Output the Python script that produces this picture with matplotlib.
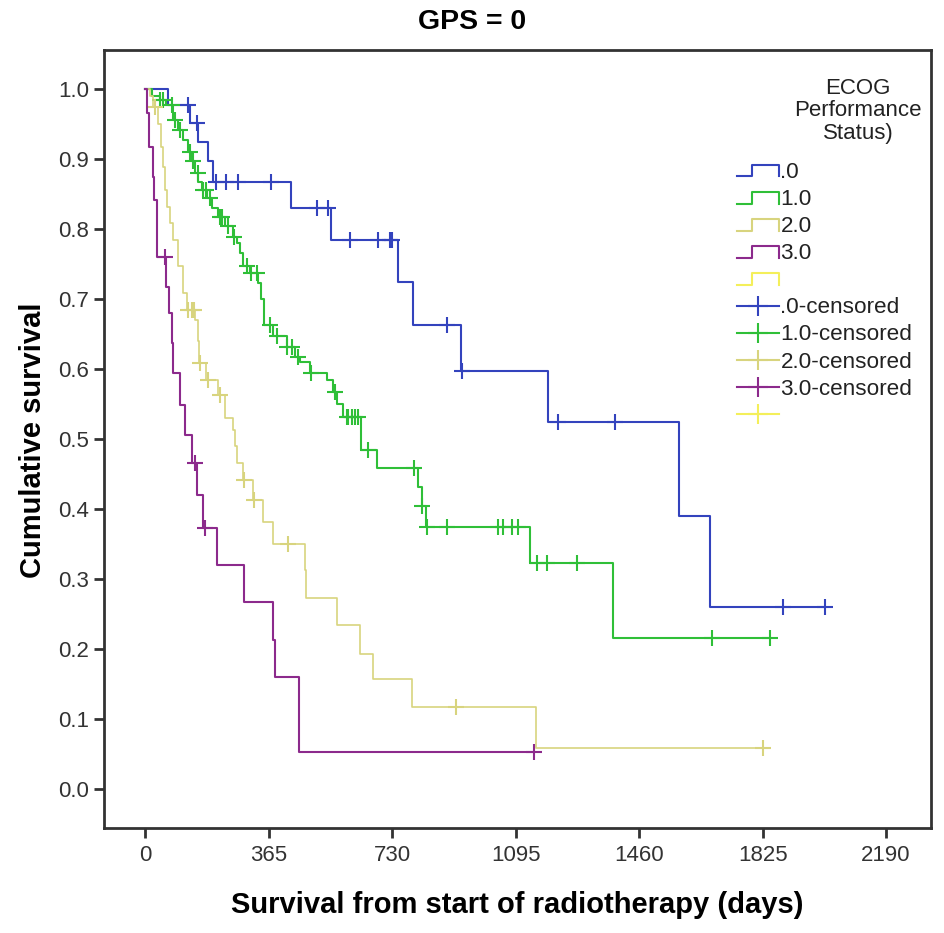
import numpy as np
import matplotlib
matplotlib.use('Agg')
import matplotlib.pyplot as plt
from matplotlib.lines import Line2D
from matplotlib.legend_handler import HandlerBase

plt.rcParams['font.family'] = ['Liberation Sans', 'DejaVu Sans']

# ECOG .0  (event days, survival after event, censored days, end of follow-up)
t0 = [68, 132, 157, 186, 199, 431, 549, 748, 792, 933, 1192, 1578, 1670]
s0 = [0.977, 0.952, 0.925, 0.897, 0.868, 0.830, 0.785, 0.725, 0.663, 0.597,
      0.524, 0.390, 0.261]
c0 = [127, 154, 209, 239, 275, 371, 507, 541, 605, 689, 724, 730, 891, 937,
      1221, 1389, 1886, 2010]
end0 = 2010

# ECOG 1.0
t1 = [20, 43, 61, 83, 98, 112, 127, 137, 147, 157, 167, 182, 196, 216, 236,
      260, 270, 281, 290, 310, 334, 342, 351, 379, 418, 443, 457, 487, 536,
      555, 567, 585, 638, 684, 807, 817, 830, 1138, 1382]
s1 = [0.99, 0.985, 0.977, 0.956, 0.942, 0.928, 0.911, 0.897, 0.88, 0.868,
      0.856, 0.844, 0.83, 0.818, 0.804, 0.789, 0.78, 0.766, 0.747, 0.737,
      0.723, 0.70, 0.663, 0.647, 0.632, 0.618, 0.611, 0.594, 0.585, 0.568,
      0.551, 0.532, 0.485, 0.459, 0.432, 0.405, 0.375, 0.323, 0.216]
c1 = [44, 52, 78, 88, 103, 132, 142, 155, 171, 181, 191, 221, 226, 245, 262,
      300, 312, 330, 369, 389, 418, 433, 452, 489, 562, 596, 600, 610, 620,
      630, 659, 793, 819, 832, 891, 1044, 1059, 1083, 1103, 1157, 1187, 1276,
      1676, 1847]
end1 = 1847

# ECOG 2.0
t2 = [14, 24, 38, 48, 53, 58, 63, 73, 83, 98, 112, 122, 148, 155, 160, 181,
      216, 236, 260, 265, 270, 290, 319, 349, 378, 472, 475, 566, 635, 674,
      788, 1155]
s2 = [0.99, 0.975, 0.951, 0.918, 0.889, 0.856, 0.832, 0.809, 0.785, 0.747,
      0.709, 0.685, 0.67, 0.64, 0.609, 0.585, 0.563, 0.53, 0.513, 0.49,
      0.466, 0.442, 0.413, 0.382, 0.351, 0.313, 0.273, 0.234, 0.194, 0.157,
      0.117, 0.0586]
c2 = [29, 127, 137, 145, 163, 185, 220, 292, 322, 423, 919, 1827]
end2 = 1827

# ECOG 3.0
t3 = [6, 12, 22, 26, 34, 35, 36, 61, 71, 78, 83, 103, 117, 137, 154, 172,
      211, 293, 377, 383, 454]
s3 = [0.966, 0.918, 0.875, 0.842, 0.813, 0.787, 0.761, 0.718, 0.68, 0.637,
      0.594, 0.549, 0.506, 0.466, 0.42, 0.373, 0.32, 0.267, 0.213, 0.16,
      0.054]
c3 = [58, 147, 177, 1149]
end3 = 1149

groups = ['.0', '1.0', '2.0', '3.0']
colors = ['#3343bd', '#2fbf38', '#d8d47e', '#8c2a8c']
extra_color = '#f4ef5a'
xticks = [0, 365, 730, 1095, 1460, 1825, 2190]
yticks = np.arange(0, 1.01, 0.1)
legend_title = ['ECOG', 'Performance', 'Status)']

fig = plt.figure(figsize=(9.45, 9.33), dpi=100)
ax = fig.add_axes([0.1104, 0.1122, 0.8745, 0.8342])

data = [(t0, s0, c0, end0), (t1, s1, c1, end1), (t2, s2, c2, end2), (t3, s3, c3, end3)]
for (t, s, c, end), col in zip(data, colors):
    lw = 1.2 if col == colors[2] else 1.5
    xs = [0] + t + [end]
    ys = [1.0] + s + [s[-1]]
    ax.step(xs, ys, where='post', color=col, lw=lw)
    # survival at censor times from the step function
    idx = np.searchsorted(t, c, side='right')
    cs = np.array([1.0] + s)[idx]
    ax.plot(c, cs, ls='none', marker='+', ms=11, mew=1.5, color=col)

ax.set_xlim(-121, 2322)
ax.set_ylim(-0.0557, 1.056)
ax.set_xticks(xticks)
ax.set_yticks(yticks)
ax.set_yticklabels(['%.1f' % v for v in yticks])
ax.tick_params(direction='out', length=7, width=2, color='#333333',
               labelsize=16, labelcolor='#333333')
ax.tick_params(axis='x', pad=5)
ax.tick_params(axis='y', pad=4)
for sp in ax.spines.values():
    sp.set_linewidth(2)
    sp.set_color('#333333')

fig.text(0.5, 1 - 22 / 933, 'GPS = 0', ha='center', va='center',
         fontsize=20.5, fontweight='bold')
fig.text(517 / 945, 1 - 905 / 933, 'Survival from start of radiotherapy (days)',
         ha='center', va='center', fontsize=21, fontweight='bold')
fig.text(33 / 945, 1 - 440 / 933, 'Cumulative survival', rotation=90,
         ha='center', va='center', fontsize=21, fontweight='bold')

for i, line in enumerate(legend_title):
    fig.text(858 / 945, 1 - (88 + 22.5 * i) / 933, line, ha='center',
             va='center', fontsize=16, color='#222222')


class StepHandler(HandlerBase):
    def create_artists(self, legend, orig_handle, xdescent, ydescent,
                       width, height, fontsize, trans):
        xs = np.array([0, 0.35, 0.35, 1, 1]) * width - xdescent
        ys = np.array([0.1, 0.1, 0.85, 0.85, 0.1]) * height - ydescent
        ln = Line2D(xs, ys, color=orig_handle.get_color(),
                    lw=orig_handle.get_linewidth())
        ln.set_transform(trans)
        return [ln]


step_handles = [Line2D([], [], color=c, lw=1.5) for c in colors + [extra_color]]
cens_handles = [Line2D([], [], color=c, lw=1.5, marker='+', ms=14, mew=1.5)
                for c in colors + [extra_color]]
labels = groups + [''] + [g + '-censored' for g in groups] + ['']
handler = StepHandler()
hmap = {h: handler for h in step_handles}
leg = ax.legend(step_handles + cens_handles, labels, handler_map=hmap,
                loc='upper left', bbox_to_anchor=(737 / 945, 1 - 162 / 933),
                bbox_transform=fig.transFigure, frameon=False, fontsize=16.2,
                numpoints=1, handlelength=1.85, handletextpad=0.08,
                labelspacing=0.27, borderpad=0, borderaxespad=0)
for txt in leg.get_texts():
    txt.set_color('#222222')

fig.savefig('out.png', dpi=100)
